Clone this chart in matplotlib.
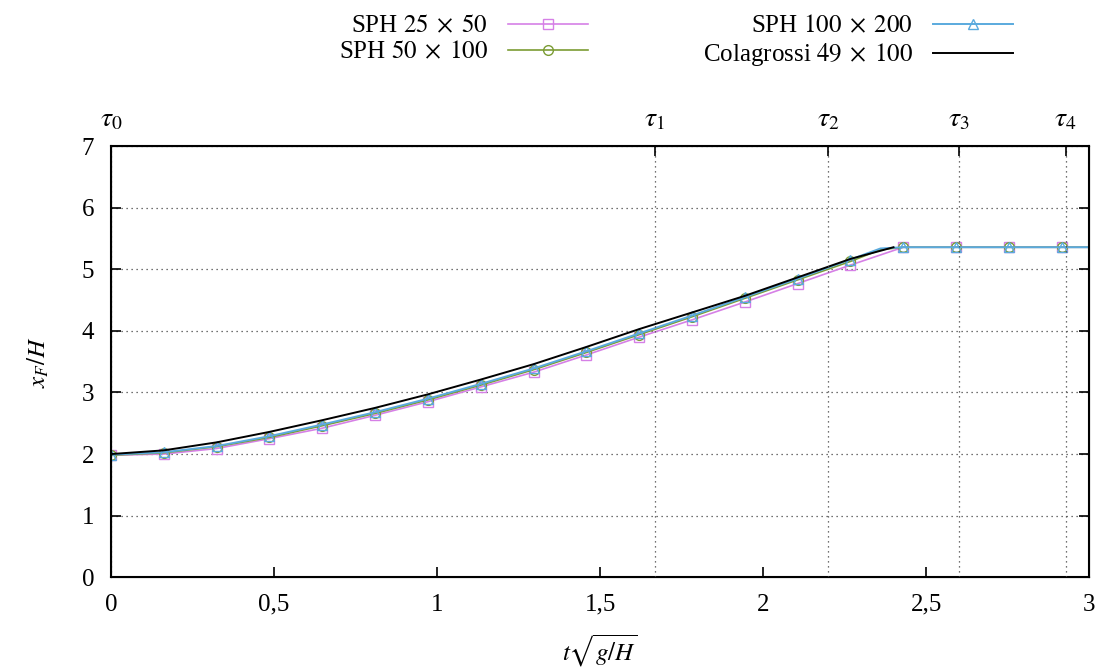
import numpy as np
import matplotlib
matplotlib.use("Agg")
import matplotlib.pyplot as plt
from matplotlib.ticker import FuncFormatter

# temps adimensionnel des sorties SPH (un marqueur par sortie)
t_sph = [0, 0.162, 0.324, 0.486, 0.648, 0.81, 0.972, 1.134, 1.296, 1.458,
         1.62, 1.782, 1.944, 2.106, 2.268, 2.43, 2.592, 2.754, 2.916, 3.0]
x_25 = [1.98, 2.00, 2.09, 2.25, 2.42, 2.63, 2.85, 3.09, 3.33, 3.61,
        3.90, 4.18, 4.47, 4.77, 5.07, 5.36, 5.36, 5.36, 5.36, 5.36]

# 50x100 et 100x200 : un point de plus vers t=2.36 (le coude avant le palier)
t_fin = [0, 0.162, 0.324, 0.486, 0.648, 0.81, 0.972, 1.134, 1.296, 1.458,
         1.62, 1.782, 1.944, 2.106, 2.268, 2.36, 2.43, 2.592, 2.754, 2.916, 3.0]
x_50 = [1.98, 2.02, 2.12, 2.27, 2.46, 2.66, 2.88, 3.12, 3.37, 3.65,
        3.94, 4.23, 4.53, 4.83, 5.13, 5.32, 5.36, 5.36, 5.36, 5.36, 5.36]
x_100 = [1.99, 2.03, 2.13, 2.29, 2.48, 2.68, 2.90, 3.14, 3.39, 3.67,
         3.96, 4.25, 4.55, 4.85, 5.16, 5.34, 5.36, 5.36, 5.36, 5.36, 5.36]

# Colagrossi 49x100
t_col = [0, 0.162, 0.324, 0.486, 0.648, 0.81, 0.972, 1.134, 1.296, 1.458,
         1.62, 1.782, 1.944, 2.106, 2.268, 2.40]
x_col = [2.00, 2.06, 2.19, 2.36, 2.55, 2.75, 2.97, 3.21, 3.46, 3.74,
         4.03, 4.30, 4.57, 4.87, 5.17, 5.36]

tau = [0, 1.667, 2.2, 2.6, 2.928]
tau_labels = [r"$\tau_0$", r"$\tau_1$", r"$\tau_2$", r"$\tau_3$", r"$\tau_4$"]

plt.rcParams["font.family"] = ["Liberation Serif", "DejaVu Serif"]
plt.rcParams["mathtext.fontset"] = "stix"
plt.rcParams["font.size"] = 18

fig = plt.figure(figsize=(10.99, 6.68), dpi=100)
ax = fig.add_axes([0.101, 0.136, 0.890, 0.645])

# indices ou on met les marqueurs (pas sur le dernier point t=3 ni le coude)
t_mark = t_sph[:-1]
mk_fin = [i for i, t in enumerate(t_fin) if t in t_mark]

ax.plot(t_sph, x_25, color="#d680e6", lw=1.2, marker="s", ms=7.5, mfc="none",
        mew=1.0, markevery=list(range(len(t_mark))), label=r"SPH $25\;\times\;50$")
ax.plot(t_fin, x_50, color="#7b9c34", lw=1.2, marker="o", ms=7, mfc="none",
        mew=1.0, markevery=mk_fin, label=r"SPH $50\;\times\;100$")
ax.plot(t_fin, x_100, color="#5aaade", lw=1.4, marker="^", ms=7, mfc="none",
        mew=1.0, markevery=mk_fin, label=r"SPH $100\;\times\;200$")
ax.plot(t_col, x_col, color="black", lw=1.4, label=r"Colagrossi $49\;\times\;100$")

ax.set_xlim(0, 3)
ax.set_ylim(0, 7)
ax.set_xticks([0, 0.5, 1, 1.5, 2, 2.5, 3])
ax.xaxis.set_major_formatter(FuncFormatter(lambda v, p: ("%g" % v).replace(".", ",")))
ax.set_yticks(range(8))
ax.tick_params(direction="in", length=7, width=1.2, pad=12, top=False, right=True)
ax.grid(axis="y", linestyle=(0, (1, 3)), color="#444444", lw=0.9)
for s in ax.spines.values():
    s.set_linewidth(1.5)

ax2 = ax.twiny()
ax2.set_xlim(0, 3)
ax2.set_xticks(tau)
ax2.set_xticklabels(tau_labels, fontsize=20)
ax2.tick_params(direction="in", length=7, width=1.2, pad=10)
ax2.grid(axis="x", linestyle=(0, (1, 3)), color="#444444", lw=0.9)

ax.set_xlabel(r"$t\sqrt{g/H}$", labelpad=12)
ax.set_ylabel(r"$x_F/H$", labelpad=22)

leg = ax.legend(loc="upper center", bbox_to_anchor=(0.615, 1.0),
                bbox_transform=fig.transFigure, ncol=2, frameon=False,
                markerfirst=False, handlelength=3.2, handletextpad=0.8,
                columnspacing=4.6, labelspacing=0.15, borderpad=0.1)

fig.savefig("out.png", dpi=100)
